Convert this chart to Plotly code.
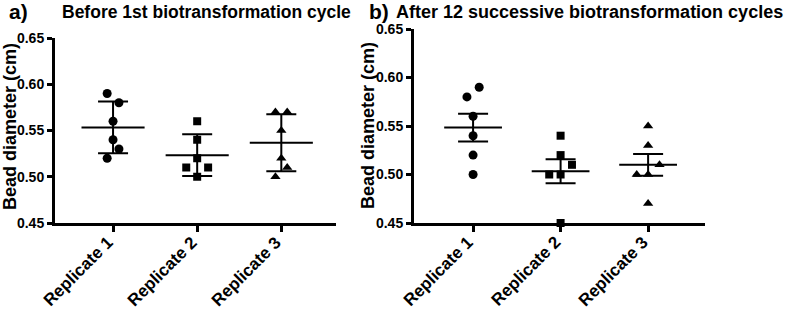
import numpy as np
import plotly.graph_objects as go

# ---- data ----
categories = ["Replicate 1", "Replicate 2", "Replicate 3"]
before_rep1 = [0.59, 0.58, 0.56, 0.54, 0.53, 0.52]
before_rep2 = [0.56, 0.54, 0.52, 0.51, 0.51, 0.50]
before_rep3 = [0.57, 0.57, 0.55, 0.52, 0.51, 0.50]
after_rep1 = [0.59, 0.58, 0.56, 0.54, 0.52, 0.50]
after_rep2 = [0.54, 0.52, 0.51, 0.50, 0.50, 0.45]
after_rep3 = [0.55, 0.53, 0.51, 0.50, 0.50, 0.47]
y_ticks = [0.45, 0.50, 0.55, 0.60, 0.65]
titles = ["Before 1st biotransformation cycle", "After 12 successive biotransformation cycles"]
panel_labels = ["a)", "b)"]
y_title = "Bead diameter (cm)"

# horizontal spread of overlapping points (category units), per point
spread_a = [[-0.07, 0.07, 0, 0, 0.07, -0.07],
            [0, 0, 0, -0.13, 0.13, 0],
            [-0.07, 0.07, 0, 0, 0.07, -0.07]]
spread_b = [[0.07, -0.07, 0, 0, 0, 0],
            [0, 0, 0.13, -0.13, 0, 0],
            [0, 0, 0.13, -0.13, 0, 0]]

symbols = ["circle", "square", "triangle-up"]
sizes = [9, 8, 9]
FONT = "Liberation Sans, Arial, sans-serif"

fig = go.Figure()

panels = [
    dict(data=[before_rep1, before_rep2, before_rep3], spread=spread_a, err="sd",
         xa="x", ya="y", half=0.375),
    dict(data=[after_rep1, after_rep2, after_rep3], spread=spread_b, err="sem",
         xa="x2", ya="y2", half=0.33),
]

for p in panels:
    for i, vals in enumerate(p["data"]):
        v = np.array(vals)
        m = v.mean()
        sd = v.std(ddof=1)
        e = sd if p["err"] == "sd" else sd / np.sqrt(len(v))
        fig.add_trace(go.Scatter(
            x=[i + s for s in p["spread"][i]], y=vals, mode="markers",
            marker=dict(symbol=symbols[i], size=sizes[i], color="black"),
            xaxis=p["xa"], yaxis=p["ya"], showlegend=False, cliponaxis=False))
        fig.add_trace(go.Scatter(
            x=[i - p["half"], i + p["half"]], y=[m, m], mode="lines",
            line=dict(color="black", width=2),
            xaxis=p["xa"], yaxis=p["ya"], showlegend=False))
        fig.add_trace(go.Scatter(
            x=[i], y=[m], mode="markers",
            marker=dict(size=1, color="rgba(0,0,0,0)"),
            error_y=dict(type="data", array=[e], arrayminus=[e], width=15,
                         thickness=2, color="black"),
            xaxis=p["xa"], yaxis=p["ya"], showlegend=False))

W, H = 787, 314
common_x = dict(tickvals=[0, 1, 2], showticklabels=False,
                showline=True, linecolor="black", linewidth=3, ticks="outside",
                ticklen=6, tickwidth=2.5, tickcolor="black", showgrid=False,
                zeroline=False, automargin=False)
common_y = dict(range=[0.45, 0.65], tickvals=y_ticks, tickformat=".2f",
                showline=True, linecolor="black", linewidth=3, ticks="outside",
                ticklen=5, tickwidth=2.5, tickcolor="black", showgrid=False,
                zeroline=False, automargin=False,
                tickfont=dict(family=FONT, size=14, color="black", weight="bold"))

fig.update_layout(
    width=W, height=H, margin=dict(l=0, r=0, t=0, b=0, autoexpand=False),
    plot_bgcolor="white", paper_bgcolor="white",
    xaxis=dict(domain=[55 / W, 336 / W], range=[-0.69, 2.65], anchor="y", **common_x),
    yaxis=dict(domain=[(H - 223) / H, (H - 38) / H], anchor="x", **common_y),
    xaxis2=dict(domain=[414 / W, 705 / W], range=[-0.675, 2.65], anchor="y2", **common_x),
    yaxis2=dict(domain=[(H - 223) / H, (H - 29) / H], anchor="x2", **common_y),
)

bold = dict(family=FONT, color="black", weight="bold")
ann = [
    dict(text=panel_labels[0], x=18 / W, y=1 - 12 / H, font=dict(size=21, **bold)),
    dict(text=titles[0], x=206 / W, y=1 - 12 / H, font=dict(size=17.5, **bold)),
    dict(text=panel_labels[1], x=379 / W, y=1 - 12 / H, font=dict(size=21, **bold)),
    dict(text=titles[1], x=589 / W, y=1 - 12 / H, font=dict(size=18, **bold)),
    dict(text=y_title, x=10 / W, y=1 - 127 / H, textangle=-90, font=dict(size=18, **bold)),
    dict(text=y_title, x=368 / W, y=1 - 126 / H, textangle=-90, font=dict(size=18, **bold)),
]
for a in ann:
    fig.add_annotation(xref="paper", yref="paper", xanchor="center", yanchor="middle",
                       showarrow=False, **a)

# rotated category labels, placed through each panel's x axis
for xref in ["x", "x2"]:
    for i, cat in enumerate(categories):
        fig.add_annotation(xref=xref, yref="paper", x=i, xshift=-35, y=1 - 271 / H,
                           text=cat, textangle=-45, showarrow=False,
                           xanchor="center", yanchor="middle",
                           font=dict(size=17, **bold))

fig.write_html("out.html", config={"displayModeBar": False},
               post_script="document.body.style.margin='0';")
